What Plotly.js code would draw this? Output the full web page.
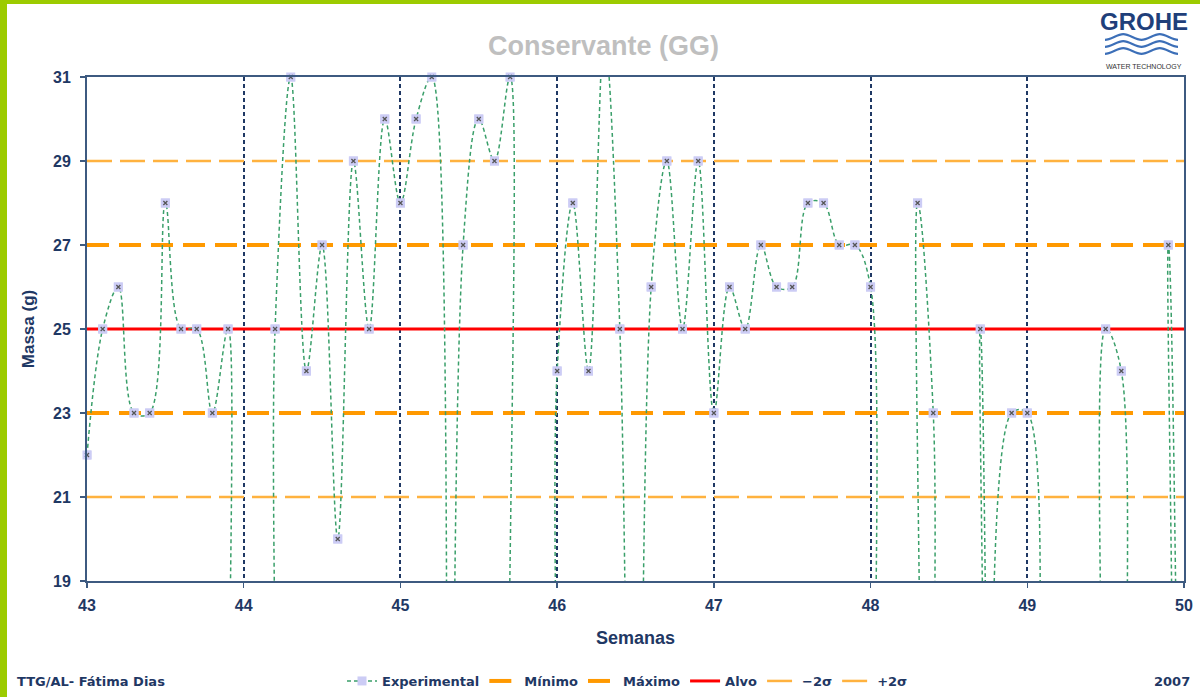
<!DOCTYPE html>
<html><head><meta charset="utf-8">
<script src="https://cdn.plot.ly/plotly-3.0.1.min.js"></script>
<style>html,body{margin:0;padding:0;background:#fff;}#chart{width:1200px;height:697px;}</style>
</head><body><div id="chart"></div>
<script>
// ---- data ----
const weeks = [43.0,43.1,43.2,43.3,43.4,43.5,43.6,43.7,43.8,43.9,
               44.0,44.1,44.2,44.3,44.4,44.5,44.6,44.7,44.8,44.9,
               45.0,45.1,45.2,45.3,45.4,45.5,45.6,45.7,45.8,45.9,
               46.0,46.1,46.2,46.3,46.4,46.5,46.6,46.7,46.8,46.9,
               47.0,47.1,47.2,47.3,47.4,47.5,47.6,47.7,47.8,47.9,
               48.0,48.1,48.2,48.3,48.4,48.5,48.6,48.7,48.8,48.9,
               49.0,49.1,49.2,49.3,49.4,49.5,49.6,49.7,49.8,49.9,50.0];
const massa = [22,25,26,23,23,28,25,25,23,25,
               0,0,25,31,24,27,20,29,25,30,
               28,30,31,0,27,30,29,31,0,0,
               24,28,24,32,25,0,26,29,25,29,
               23,26,25,27,26,26,28,28,27,27,
               26,0,0,28,23,0,0,25,0,23,
               23,0,0,0,0,25,24,0,0,27,0];
const minimo = 23, maximo = 27, alvo = 25, menos2s = 21, mais2s = 29;
const xRange = [43, 50];
const yRange = [19, 31];
const xTicks = [43,44,45,46,47,48,49,50];
const yTicks = [19,21,23,25,27,29,31];

// ---- helpers (pixel -> paper) ----
const L = 87, R = 1184, T = 77, B = 581;
const px = x => (x - L) / (R - L);
const py = y => (B - y) / (B - T);

const navy = '#1F3864';
const shown = massa.map(v => (v >= yRange[0] && v <= yRange[1]) ? v : null);

function hline(name, val, color, width, dash, rank) {
  return {x: xRange, y: [val, val], mode: 'lines', name: name, legendrank: rank,
          line: {color: color, width: width, dash: dash}, hoverinfo: 'skip'};
}

const traces = [
  hline('−2σ', menos2s, '#FFB23F', 2.5, '25px,8px', 5),
  hline('+2σ', mais2s, '#FFB23F', 2.5, '25px,8px', 6),
  hline('Mínimo', minimo, '#FF9900', 4, '22px,10px', 2),
  hline('Máximo', maximo, '#FF9900', 4, '22px,10px', 3),
  hline('Alvo', alvo, '#FF0000', 3, 'solid', 4),
  {x: weeks, y: massa, mode: 'lines+markers', name: 'Experimental', legendrank: 1,
   line: {shape: 'spline', smoothing: 1, color: '#3A9F6A', width: 1.5, dash: '4px,3px'},
   marker: {symbol: 'square', size: 9, color: '#CCCCF5'}},
  {x: weeks, y: shown, mode: 'markers', showlegend: false, cliponaxis: false,
   marker: {symbol: 'square', size: 9, color: '#CCCCF5'}},
  {x: weeks, y: shown, mode: 'markers', showlegend: false, cliponaxis: false,
   marker: {symbol: 'x-thin', size: 4, color: '#555', line: {width: 1.3, color: '#555'}}}
];

// logo waves
function wave(y) {
  const x0 = 1105, seg = 18.25, a = 2.8;
  let d = `M ${px(x0)},${py(y + a)}`;
  for (let i = 0; i < 4; i++) {
    const xs = x0 + i * seg, xe = xs + seg;
    const up = i % 2 === 0;
    d += ` C ${px(xs + seg * 0.35)},${py(y + (up ? a : -a))} ${px(xe - seg * 0.35)},${py(y + (up ? -a : a))} ${px(xe)},${py(y + (up ? -a : a))}`;
  }
  return {type: 'path', xref: 'paper', yref: 'paper', path: d,
          line: {color: '#3C6FB8', width: 2.2}};
}

const shapes = [
  {type: 'rect', xref: 'paper', yref: 'paper', x0: px(0), x1: px(7), y0: py(697), y1: py(0),
   fillcolor: '#9CCB00', line: {width: 0}},
  {type: 'rect', xref: 'paper', yref: 'paper', x0: px(0), x1: px(1200), y0: py(4), y1: py(0),
   fillcolor: '#9CCB00', line: {width: 0}},
  wave(37), wave(44), wave(51)
];

const annotations = [
  {text: 'GROHE', xref: 'paper', yref: 'paper', x: px(1144), y: py(22), xanchor: 'center', yanchor: 'middle',
   showarrow: false,
   font: {family: 'Liberation Sans, Arial', size: 24, color: '#1F3F7A', weight: 'bold'}},
  {text: 'WATER TECHNOLOGY', xref: 'paper', yref: 'paper', x: px(1144), y: py(66), xanchor: 'center', yanchor: 'middle',
   showarrow: false,
   font: {family: 'Liberation Sans, Arial', size: 7, color: '#333'}},
  {text: 'TTG/AL- Fátima Dias', xref: 'paper', yref: 'paper', x: px(15), y: py(681),
   xanchor: 'left', yanchor: 'middle', showarrow: false,
   font: {family: 'DejaVu Sans', size: 13, color: navy, weight: 'bold'}},
  {text: '2007', xref: 'paper', yref: 'paper', x: px(1192), y: py(681),
   xanchor: 'right', yanchor: 'middle', showarrow: false,
   font: {family: 'DejaVu Sans', size: 13, color: navy, weight: 'bold'}}
];

const layout = {
  width: 1200, height: 697,
  margin: {l: L, r: 1200 - R, t: T, b: 697 - B, autoexpand: false},
  paper_bgcolor: '#fff', plot_bgcolor: '#fff',
  title: {text: 'Conservante (GG)', x: 0.503, xanchor: 'center', y: 1 - 46 / 697, yanchor: 'middle',
          font: {family: 'Liberation Sans, Arial', size: 27, color: '#BFBFBF', weight: 'bold'}},
  xaxis: {range: xRange, tickvals: xTicks, ticktext: xTicks.map(String), automargin: false,
          showgrid: true, gridcolor: navy, gridwidth: 2, griddash: '4px,3px',
          zeroline: false, showline: true, mirror: true, linecolor: '#3D5A80', linewidth: 2,
          ticks: 'outside', ticklen: 5, tickcolor: '#3D5A80', tickwidth: 1.5,
          ticklabelstandoff: 4,
          tickfont: {family: 'Liberation Sans, Arial', size: 16, color: navy, weight: 'bold'},
          title: {text: 'Semanas', standoff: 18,
                  font: {family: 'Liberation Sans, Arial', size: 18, color: navy, weight: 'bold'}}},
  yaxis: {range: yRange, tickvals: yTicks, ticktext: yTicks.map(String), automargin: false,
          showgrid: false, zeroline: false, showline: true, mirror: true,
          linecolor: '#3D5A80', linewidth: 2,
          ticks: 'outside', ticklen: 5, tickcolor: '#3D5A80', tickwidth: 1.5,
          ticklabelstandoff: 6,
          tickfont: {family: 'Liberation Sans, Arial', size: 16, color: navy, weight: 'bold'},
          title: {text: 'Massa (g)', standoff: 14,
                  font: {family: 'Liberation Sans, Arial', size: 17, color: navy, weight: 'bold'}}},
  showlegend: true,
  legend: {orientation: 'h', x: px(342), xanchor: 'left', y: py(681), yanchor: 'middle',
           traceorder: 'normal', bgcolor: 'rgba(0,0,0,0)',
           font: {family: 'DejaVu Sans', size: 13, color: navy, weight: 'bold'},
           itemclick: false, itemdoubleclick: false},
  shapes: shapes,
  annotations: annotations,
  hovermode: false
};

Plotly.newPlot('chart', traces, layout, {displayModeBar: false, staticPlot: true});
</script></body></html>
